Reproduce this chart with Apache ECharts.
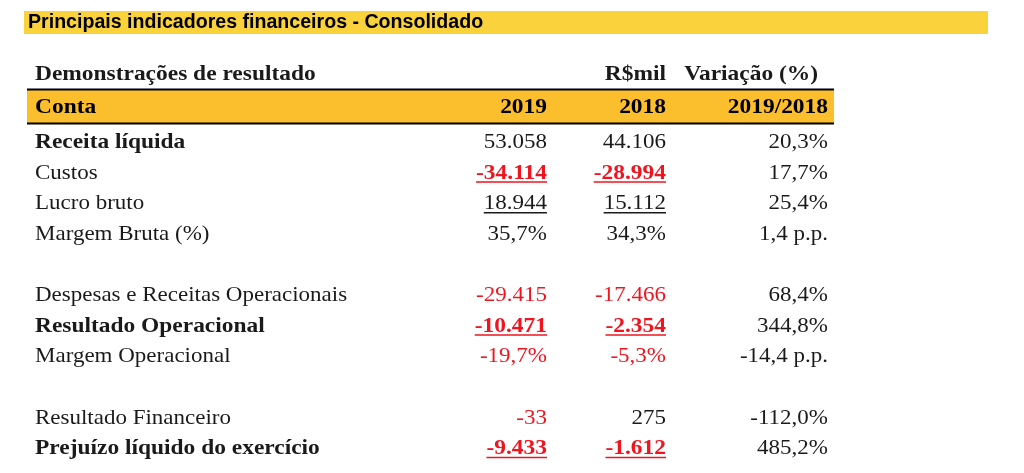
<!DOCTYPE html>
<html>
<head>
<meta charset="utf-8">
<script src="https://cdn.jsdelivr.net/npm/echarts@6/dist/echarts.min.js"></script>
<style>
  html, body { margin: 0; padding: 0; background: #fff; }
  #chart { width: 1024px; height: 473px; }
</style>
</head>
<body>
<div id="chart"></div>
<script>
// table data
var title = 'Principais indicadores financeiros - Consolidado';
var sectionTitle = 'Demonstrações de resultado';
var headers = ['Conta', '2019', '2018', '2019/2018'];
var rowLabels = [
  'Receita líquida', 'Custos', 'Lucro bruto', 'Margem Bruta (%)', '',
  'Despesas e Receitas Operacionais', 'Resultado Operacional', 'Margem Operacional', '',
  'Resultado Financeiro', 'Prejuízo líquido do exercício'
];
// 'num' = R$ mil, 'pct' = margem em %
var rowUnits = ['num', 'num', 'num', 'pct', '', 'num', 'num', 'pct', '', 'num', 'num'];
var values2019 = [53058, -34114, 18944, 35.7, null, -29415, -10471, -19.7, null, -33, -9433];
var values2018 = [44106, -28994, 15112, 34.3, null, -17466, -2354, -5.3, null, 275, -1612];
var variation = [20.3, 17.7, 25.4, 1.4, null, 68.4, 344.8, -14.4, null, -112.0, 485.2];
var boldLabelRows = [0, 6, 10];
var boldValueRows = [1, 6, 10];
var underlineRows = [1, 2, 6, 10];

// layout
var colX = [35, 547, 666, 828];
var serif = '"Liberation Serif", "DejaVu Serif", serif';
var fontSize = 22;
var black = '#1a1a1a';
var red = '#f0141e';

function stretchOf(bold) {
  return bold ? 1.065 : 1.045;
}

function fmtInt(v) {
  var s = String(Math.abs(v)).replace(/\B(?=(\d{3})+(?!\d))/g, '.');
  return (v < 0 ? '-' : '') + s;
}
function fmtDec(v) {
  return v.toFixed(1).replace('.', ',');
}
function cellText(r, c) {
  if (c === 0) return rowLabels[r];
  var unit = rowUnits[r];
  if (!unit) return '';
  if (c === 3) {
    return unit === 'pct' ? fmtDec(variation[r]) + ' p.p.' : fmtDec(variation[r]) + '%';
  }
  var v = c === 1 ? values2019[r] : values2018[r];
  return unit === 'pct' ? fmtDec(v) + '%' : fmtInt(v);
}

function serifText(x, y, text, bold, fill, align) {
  return {
    type: 'text', x: x, y: y, scaleX: stretchOf(bold),
    style: { text: text, font: (bold ? 'bold ' : '') + fontSize + 'px ' + serif, fill: fill, verticalAlign: 'middle', align: align }
  };
}

var measureCtx = document.createElement('canvas').getContext('2d');

var cells = [];
for (var r = 0; r < rowLabels.length; r++) {
  for (var c = 0; c < 4; c++) {
    if (cellText(r, c) !== '') cells.push([colX[c], r, c]);
  }
}

var chart = echarts.init(document.getElementById('chart'));
var option = {
  animation: false,
  grid: { left: 0, right: 0, top: 127.2, bottom: 9.2 },
  xAxis: { type: 'value', min: 0, max: 1024, show: false },
  yAxis: {
    type: 'category',
    data: rowLabels.map(function (d, i) { return String(i); }),
    inverse: true,
    show: false
  },
  graphic: [
    { type: 'rect', shape: { x: 24, y: 11, width: 964, height: 23 }, style: { fill: '#fad23c' } },
    { type: 'text', x: 28, y: 23, style: { text: title, font: 'bold 19.6px "Liberation Sans", Arial, sans-serif', fill: '#000', verticalAlign: 'middle' } },
    serifText(colX[0], 74.5, sectionTitle, true, black, 'left'),
    serifText(colX[2], 74.5, 'R$mil', true, black, 'right'),
    serifText(818, 74.5, 'Variação (%)', true, black, 'right'),
    { type: 'rect', shape: { x: 27, y: 90, width: 807, height: 33 }, style: { fill: '#fbbe2c' } },
    { type: 'line', shape: { x1: 27, y1: 89.5, x2: 834, y2: 89.5 }, style: { stroke: '#000', lineWidth: 2 } },
    { type: 'line', shape: { x1: 27, y1: 123.5, x2: 834, y2: 123.5 }, style: { stroke: '#000', lineWidth: 2 } }
  ].concat(headers.map(function (h, i) {
    return serifText(colX[i], 107.5, h, true, '#000', i === 0 ? 'left' : 'right');
  })),
  series: [{
    type: 'custom',
    coordinateSystem: 'cartesian2d',
    encode: { x: 0, y: 1 },
    data: cells,
    renderItem: function (params, api) {
      var r = api.value(1), c = api.value(2);
      var pt = api.coord([api.value(0), r]);
      var text = cellText(r, c);
      var bold = c === 0 ? boldLabelRows.indexOf(r) >= 0 : (c < 3 && boldValueRows.indexOf(r) >= 0);
      var v = c === 1 ? values2019[r] : values2018[r];
      var color = (c === 1 || c === 2) && v < 0 ? red : black;
      var children = [serifText(pt[0], pt[1], text, bold, color, c === 0 ? 'left' : 'right')];
      if ((c === 1 || c === 2) && underlineRows.indexOf(r) >= 0) {
        measureCtx.font = (bold ? 'bold ' : '') + fontSize + 'px ' + serif;
        var w = measureCtx.measureText(text).width * stretchOf(bold);
        children.push({
          type: 'line',
          shape: { x1: pt[0] - w, y1: pt[1] + 9, x2: pt[0], y2: pt[1] + 9 },
          style: { stroke: color, lineWidth: 1.5 }
        });
      }
      return { type: 'group', children: children };
    }
  }]
};
chart.setOption(option);
</script>
</body>
</html>
